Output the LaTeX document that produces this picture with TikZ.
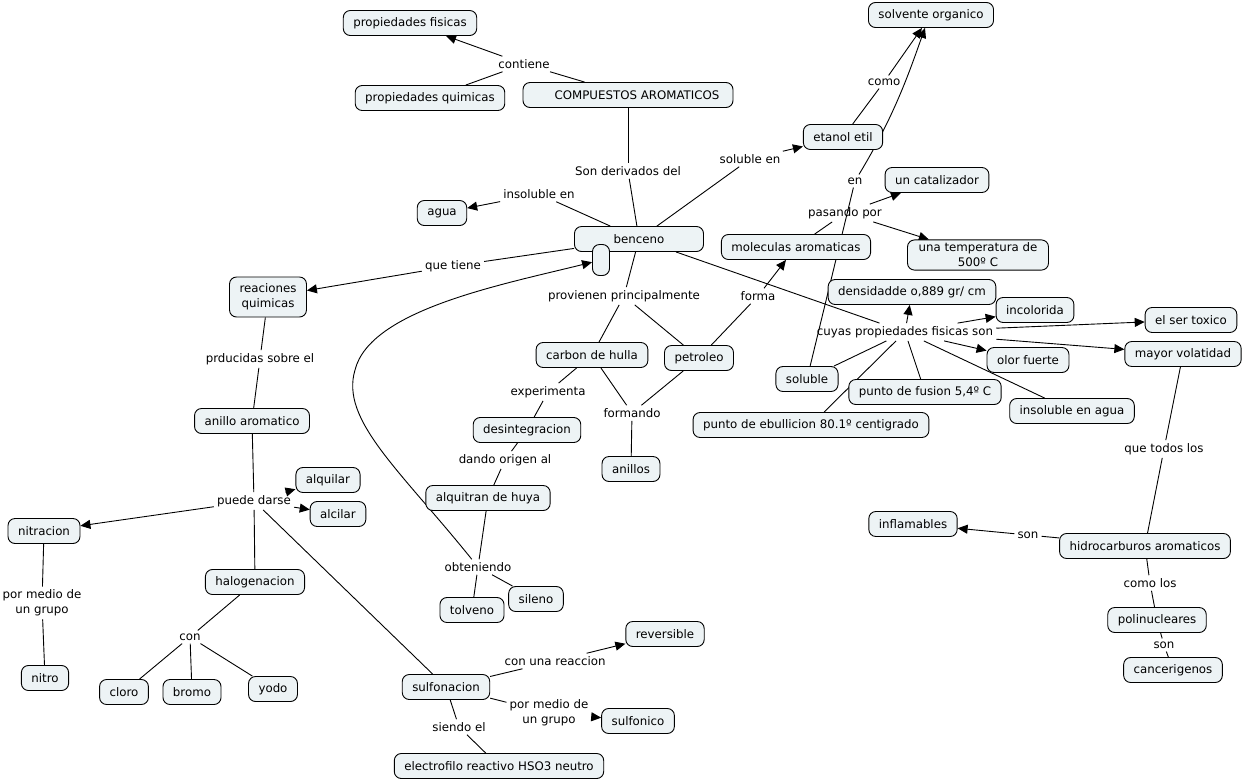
\documentclass[tikz,border=0pt]{standalone}
\usepackage{fontspec}
\setmainfont{DejaVu Sans}
\usepackage{tikz}
\usetikzlibrary{arrows.meta}
\pgfdeclarelayer{background}
\pgfsetlayers{background,main}
\definecolor{cmapfill}{RGB}{237,243,245}

\begin{document}
\begin{tikzpicture}
			[
				x = 1pt, y = -1pt,
				concept/.style = {rectangle, rounded corners = 7pt, draw = black, line width = 0.9pt, fill = cmapfill, inner xsep = 10pt, inner ysep = 3pt, minimum height = 25pt, align = center, font = \fontsize{11.8}{15}\selectfont},
				link/.style = {inner sep = 3pt, align = center, font = \fontsize{11.8}{15}\selectfont},
				conn/.style = {line width = 0.9pt},
				arr/.style = {line width = 0.9pt, -{Triangle[length = 10pt, width = 9pt]}},
			]
			\useasboundingbox (0,0) rectangle (1243,780);
			\node (propfis) [concept] at (410,23) {propiedades fisicas};
			\node (propquim) [concept] at (430,98) {propiedades quimicas};
			\node (compuestos) [concept, minimum width = 210pt] at (628,95) {\hspace*{18pt}COMPUESTOS AROMATICOS};
			\node (solvente) [concept] at (931,15) {solvente organico};
			\node (etanol) [concept] at (843,137) {etanol etil};
			\node (catalizador) [concept] at (937,180) {un catalizador};
			\node (temperatura) [concept, minimum width = 141pt] at (978,255) {una temperatura de\\500º C};
			\node (moleculas) [concept] at (796,247) {moleculas aromaticas};
			\node (benceno) [concept, minimum width = 129pt] at (639,239) {benceno};
			\node (bencenox) [concept, minimum width = 17pt, minimum height = 31pt, inner sep = 0pt] at (601,260) {};
			\node (agua) [concept] at (442,213) {agua};
			\node (reacciones) [concept, minimum height = 40pt] at (268,297) {reaciones\\quimicas};
			\node (densidad) [concept] at (912,292) {densidadde o,889 gr/ cm};
			\node (incolorida) [concept] at (1035,310) {incolorida};
			\node (toxico) [concept] at (1191,320) {el ser toxico};
			\node (olor) [concept] at (1028,360) {olor fuerte};
			\node (volatilidad) [concept] at (1183,354) {mayor volatidad};
			\node (soluble) [concept] at (807,379) {soluble};
			\node (fusion) [concept] at (925,392) {punto de fusion 5,4º C};
			\node (ebullicion) [concept] at (811,425) {punto de ebullicion 80.1º centigrado};
			\node (insagua) [concept] at (1072,411) {insoluble en agua};
			\node (carbon) [concept] at (592,355) {carbon de hulla};
			\node (petroleo) [concept] at (699,358) {petroleo};
			\node (anillos) [concept] at (631,469) {anillos};
			\node (desintegracion) [concept] at (527,430) {desintegracion};
			\node (alquitran) [concept] at (488,498) {alquitran de huya};
			\node (tolveno) [concept] at (472,610) {tolveno};
			\node (sileno) [concept] at (536,599) {sileno};
			\node (anillo) [concept] at (252,421) {anillo aromatico};
			\node (alquilar) [concept] at (328,480) {alquilar};
			\node (alcilar) [concept] at (338,514) {alcilar};
			\node (nitracion) [concept] at (44,531) {nitracion};
			\node (halogenacion) [concept] at (255,582) {halogenacion};
			\node (nitro) [concept] at (45,678) {nitro};
			\node (cloro) [concept] at (124,692) {cloro};
			\node (bromo) [concept] at (192,692) {bromo};
			\node (yodo) [concept] at (273,689) {yodo};
			\node (sulfonacion) [concept] at (446,687) {sulfonacion};
			\node (reversible) [concept] at (665,634) {reversible};
			\node (sulfonico) [concept] at (638,721) {sulfonico};
			\node (electrofilo) [concept] at (499,766) {electrofilo reactivo HSO3 neutro};
			\node (inflamables) [concept] at (913,524) {inflamables};
			\node (hidrocarburos) [concept] at (1145,546) {hidrocarburos aromaticos};
			\node (polinucleares) [concept] at (1157,620) {polinucleares};
			\node (cancerigenos) [concept] at (1173,670) {cancerigenos};

			\node (lcontiene) [link] at (524,64) {contiene};
			\node (lderivados) [link] at (628,171) {Son derivados del};
			\node (linsoluble) [link] at (539,194) {insoluble en};
			\node (lsolublen) [link] at (750,159) {soluble en};
			\node (lcomo) [link] at (884,82) {como};
			\node (len) [link] at (855,181) {en};
			\node (lpasando) [link] at (845,213) {pasando por};
			\node (lforma) [link] at (758,296) {forma};
			\node (lquetiene) [link] at (453,266) {que tiene};
			\node (lprovienen) [link] at (624,296) {provienen principalmente};
			\node (lcuyas) [link] at (905,332) {cuyas propiedades fisicas son};
			\node (lexperimenta) [link] at (548,392) {experimenta};
			\node (lformando) [link] at (632,413) {formando};
			\node (ldando) [link] at (505,460) {dando origen al};
			\node (lobteniendo) [link] at (478,567) {obteniendo};
			\node (lprducidas) [link] at (260,359) {prducidas sobre el};
			\node (lpuede) [link] at (254,501) {puede darse};
			\node (lpormedio) [link] at (42,603) {por medio de\\un grupo};
			\node (lcon) [link] at (190,637) {con};
			\node (lreaccion) [link] at (555,661) {con una reaccion};
			\node (lgrupo) [link] at (549,713) {por medio de\\un grupo};
			\node (lsiendo) [link] at (459,727) {siendo el};
			\node (ltodos) [link] at (1164,449) {que todos los};
			\node (lson) [link] at (1028,535) {son};
			\node (lcomolos) [link] at (1150,583) {como los};
			\node (lson2) [link] at (1164,645) {son};

			\begin{pgfonlayer}{background}
				\draw [conn] (compuestos) -- (lcontiene);
				\draw [conn] (lcontiene) -- (propquim);
				\draw [arr] (lcontiene) -- (propfis);
				\draw [conn] (compuestos) -- (lderivados);
				\draw [conn] (lderivados) -- (benceno);
				\draw [conn] (benceno) -- (linsoluble);
				\draw [arr] (linsoluble) -- (agua);
				\draw [conn] (benceno) -- (lsolublen);
				\draw [arr] (lsolublen) -- (etanol);
				\draw [conn] (etanol) -- (lcomo);
				\draw [arr] (lcomo) -- (solvente);
				\draw [conn] (soluble) -- (len);
				\draw [arr] (len) .. controls (895,115) and (910,70) .. ([xshift = -6pt]solvente.south);
				\draw [conn] (moleculas) -- (lpasando);
				\draw [arr] (lpasando) -- (catalizador);
				\draw [arr] (lpasando) -- (temperatura);
				\draw [conn] (petroleo) -- (lforma);
				\draw [arr] (lforma) -- (moleculas);
				\draw [conn] (benceno) -- (lquetiene);
				\draw [arr] (lquetiene) -- (reacciones);
				\draw [conn] (benceno) -- (lprovienen);
				\draw [conn] (lprovienen) -- (carbon);
				\draw [conn] (lprovienen) -- (petroleo);
				\draw [conn] (benceno) -- (lcuyas);
				\draw [arr] (lcuyas) -- (densidad);
				\draw [arr] (lcuyas) -- (incolorida);
				\draw [arr] (lcuyas) -- (toxico);
				\draw [arr] (lcuyas) -- (olor);
				\draw [arr] (lcuyas) -- (volatilidad);
				\draw [conn] (lcuyas) -- (soluble);
				\draw [conn] (lcuyas) -- (fusion);
				\draw [conn] (lcuyas) -- (ebullicion);
				\draw [conn] (lcuyas) -- (insagua);
				\draw [conn] (carbon) -- (lformando);
				\draw [conn] (petroleo) -- (lformando);
				\draw [conn] (lformando) -- (anillos);
				\draw [conn] (carbon) -- (lexperimenta);
				\draw [conn] (lexperimenta) -- (desintegracion);
				\draw [conn] (desintegracion) -- (ldando);
				\draw [conn] (ldando) -- (alquitran);
				\draw [conn] (alquitran) -- (lobteniendo);
				\draw [conn] (lobteniendo) -- (tolveno);
				\draw [conn] (lobteniendo) -- (sileno);
				\draw [arr] (lobteniendo) .. controls (400,470) and (340,420) .. (355,370) .. controls (370,310) and (500,285) .. (bencenox);
				\draw [conn] (reacciones) -- (lprducidas);
				\draw [conn] (lprducidas) -- (anillo);
				\draw [conn] (anillo) -- (lpuede);
				\draw [arr] (lpuede) -- (alquilar);
				\draw [arr] (lpuede) -- (alcilar);
				\draw [arr] (lpuede) -- (nitracion);
				\draw [conn] (lpuede) -- (halogenacion);
				\draw [conn] (lpuede) -- (sulfonacion);
				\draw [conn] (nitracion) -- (lpormedio);
				\draw [conn] (lpormedio) -- (nitro);
				\draw [conn] (halogenacion) -- (lcon);
				\draw [conn] (lcon) -- (cloro);
				\draw [conn] (lcon) -- (bromo);
				\draw [conn] (lcon) -- (yodo);
				\draw [conn] (sulfonacion) -- (lreaccion);
				\draw [arr] (lreaccion) -- (reversible);
				\draw [conn] (sulfonacion) -- (lgrupo);
				\draw [arr] (lgrupo) -- (sulfonico);
				\draw [conn] (sulfonacion) -- (lsiendo);
				\draw [conn] (lsiendo) -- (electrofilo);
				\draw [conn] (volatilidad) -- (ltodos);
				\draw [conn] (ltodos) -- (hidrocarburos);
				\draw [conn] (hidrocarburos) -- (lson);
				\draw [arr] (lson) -- (inflamables);
				\draw [conn] (hidrocarburos) -- (lcomolos);
				\draw [conn] (lcomolos) -- (polinucleares);
				\draw [conn] (polinucleares) -- (lson2);
				\draw [conn] (lson2) -- (cancerigenos);
			\end{pgfonlayer}
		\end{tikzpicture}
\end{document}
